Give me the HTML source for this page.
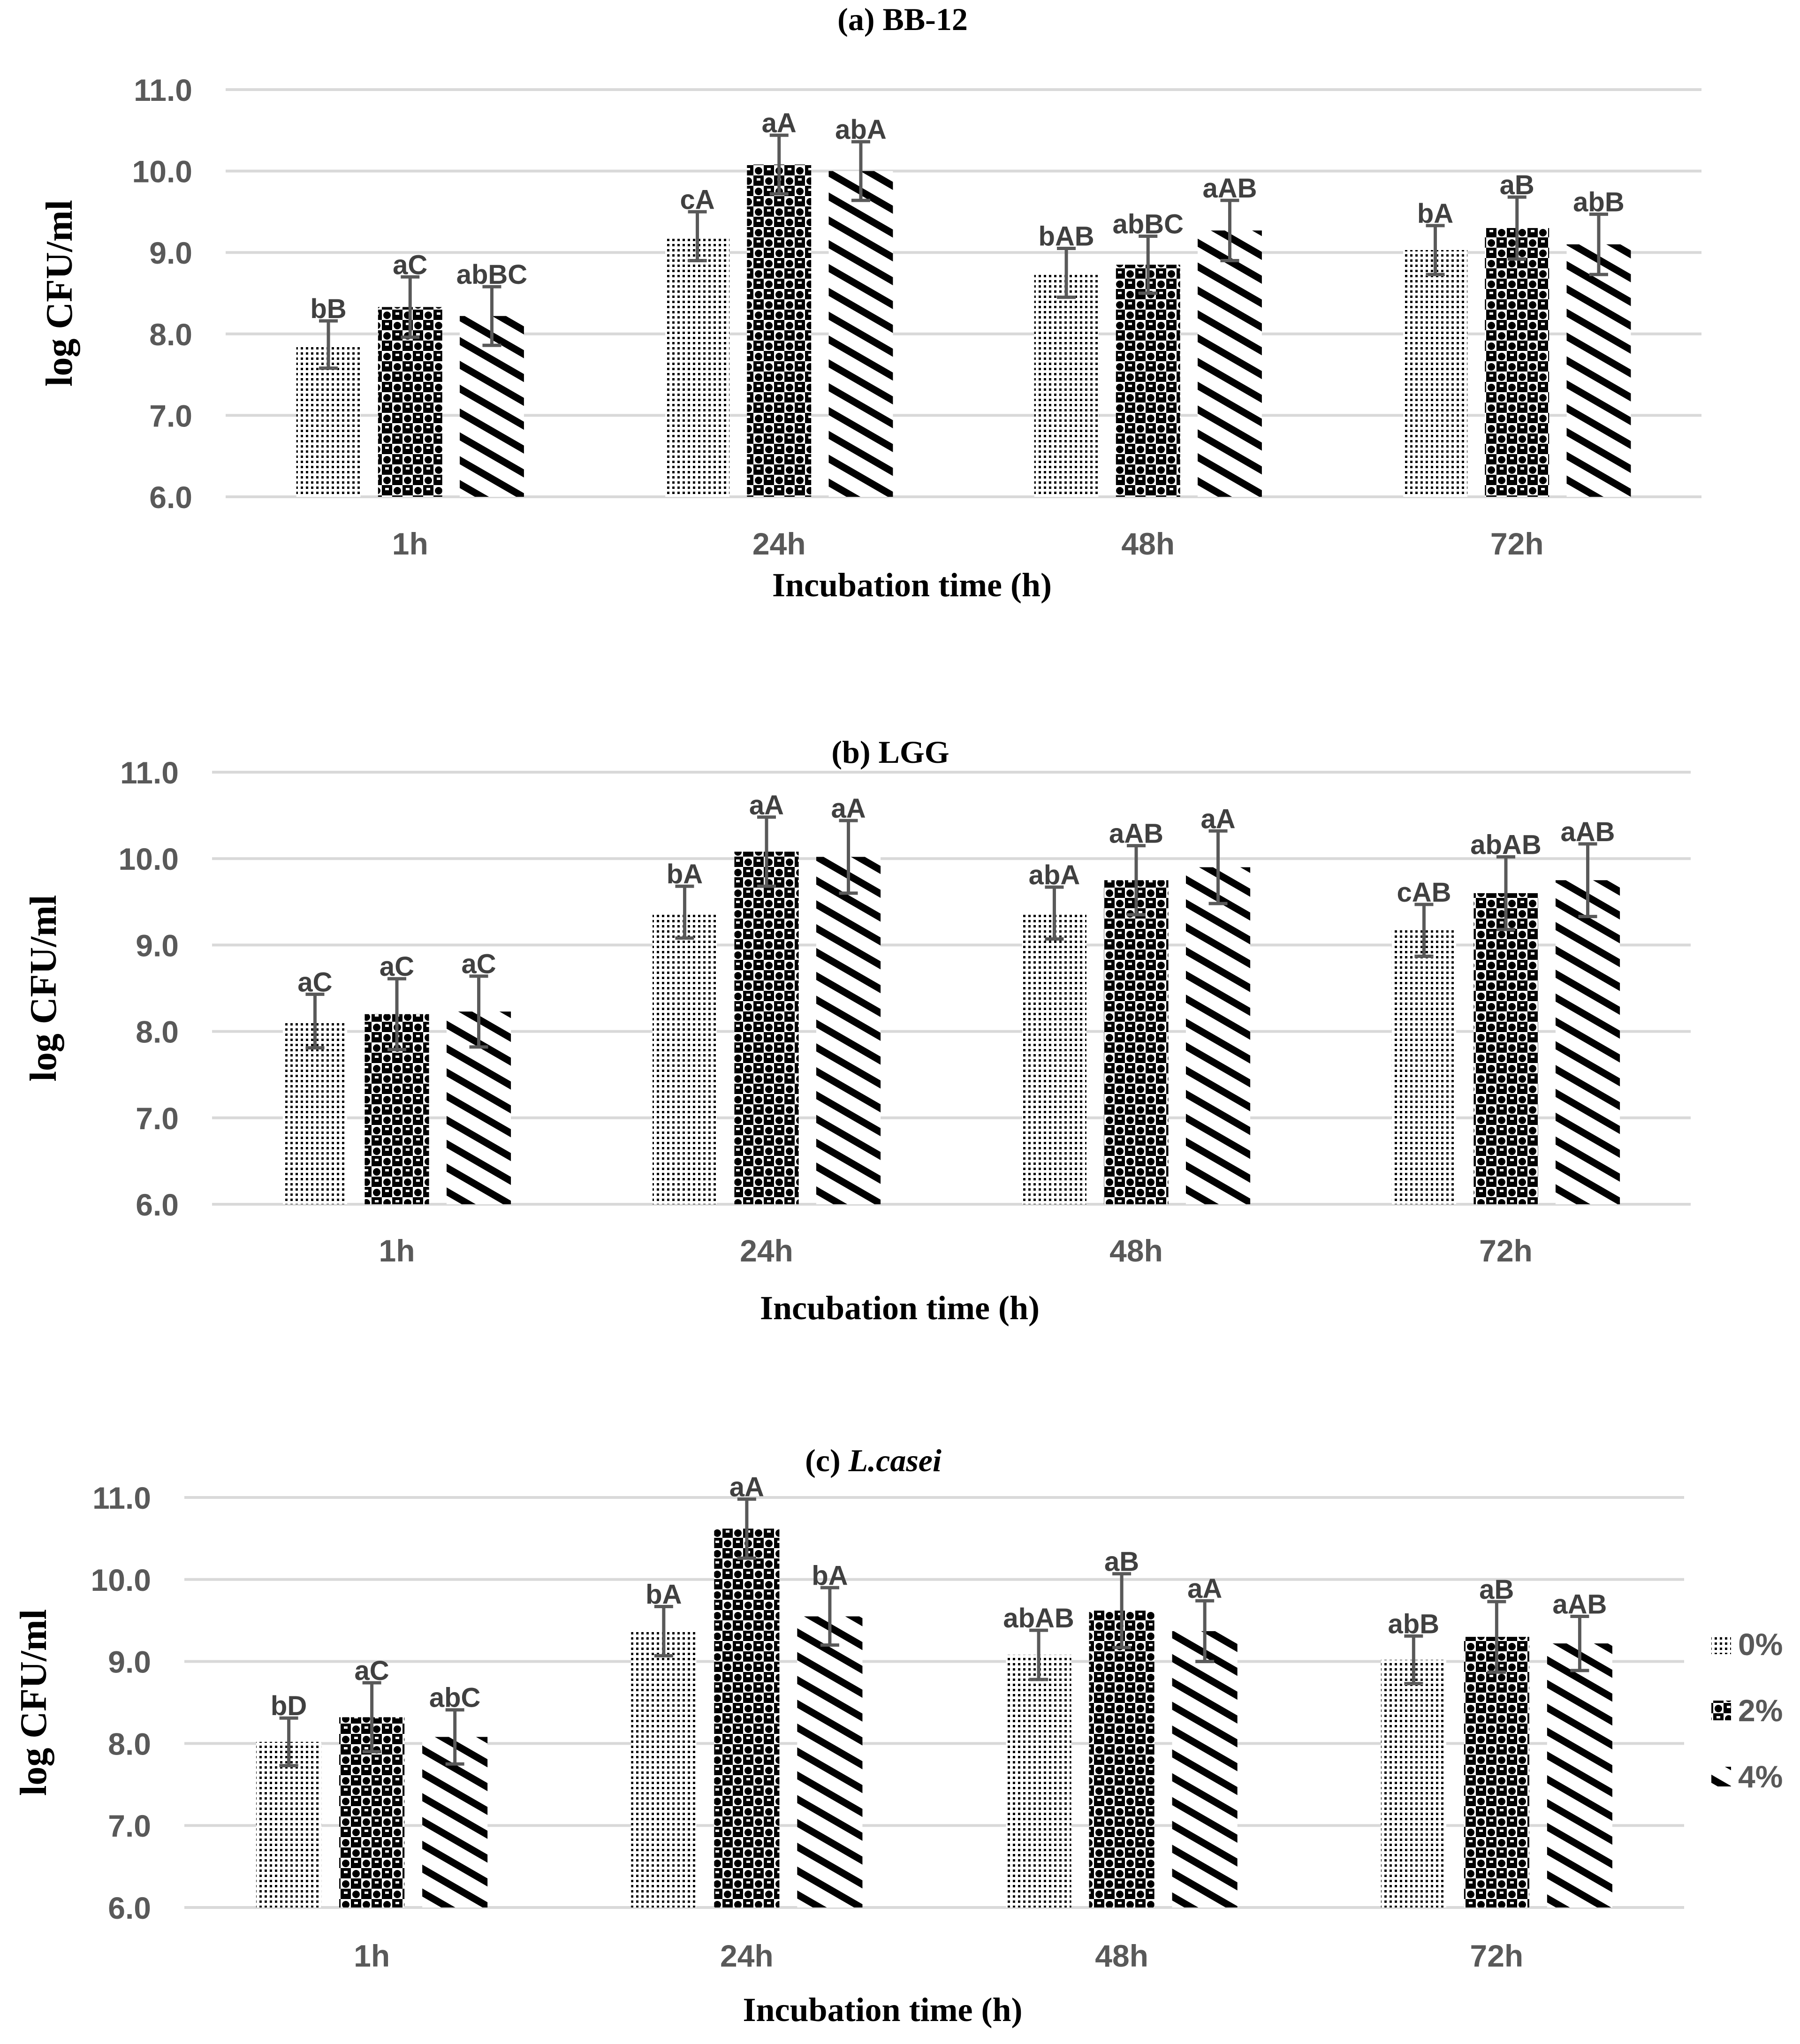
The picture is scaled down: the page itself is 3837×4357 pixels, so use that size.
<!DOCTYPE html>
<html><head><meta charset="utf-8">
<style>
html,body{margin:0;padding:0;background:#fff;}
svg{display:block;}
.tk{font-family:"Liberation Sans",sans-serif;font-weight:bold;fill:#595959;font-size:66px;}
.lb{font-family:"Liberation Sans",sans-serif;font-weight:bold;fill:#404040;font-size:58px;}
.ser{font-family:"Liberation Serif",serif;font-weight:bold;fill:#000;}
</style></head>
<body>
<svg id="chart" xmlns="http://www.w3.org/2000/svg" width="3837" height="4357" viewBox="0 0 3837 4357">
<defs>
<pattern id="p0" patternUnits="userSpaceOnUse" width="11" height="11"><rect width="11" height="11" fill="#fff"/><rect x="3" y="3" width="5" height="5" fill="#000"/></pattern>
<pattern id="p2" patternUnits="userSpaceOnUse" width="44" height="44"><rect width="44" height="44" fill="#fff"/><rect x="0" y="0" width="22" height="22" fill="#000"/><rect x="22" y="22" width="22" height="22" fill="#000"/><circle cx="33" cy="12" r="8" fill="#000"/><circle cx="11" cy="34" r="8" fill="#000"/><rect x="7" y="6" width="8" height="5" fill="#fff"/><rect x="29" y="28" width="8" height="5" fill="#fff"/></pattern>
<pattern id="p4" patternUnits="userSpaceOnUse" width="44" height="44" patternTransform="rotate(30)"><rect width="44" height="44" fill="#fff"/><rect x="0" y="0" width="44" height="15" fill="#000"/></pattern>
</defs>
<g id="root"></g>
</svg>
<script>
// ---- data ----
const categories = ["1h","24h","48h","72h"];
const seriesNames = ["0%","2%","4%"];
const yTicks = [6,7,8,9,10,11];
const yTickLabels = ["6.0","7.0","8.0","9.0","10.0","11.0"];
// panel (a) BB-12
const aMeans0 = [7.87, 9.20, 8.75, 9.03];
const aMeans2 = [8.33, 10.08, 8.85, 9.30];
const aMeans4 = [8.22, 10.00, 9.27, 9.10];
const aErr0 = [0.29, 0.30, 0.30, 0.30];
const aErr2 = [0.37, 0.36, 0.35, 0.38];
const aErr4 = [0.36, 0.36, 0.37, 0.37];
const aLab0 = ["bB","cA","bAB","bA"];
const aLab2 = ["aC","aA","abBC","aB"];
const aLab4 = ["abBC","abA","aAB","abB"];
// panel (b) LGG
const bMeans0 = [8.12, 9.38, 9.37, 9.17];
const bMeans2 = [8.20, 10.08, 9.75, 9.60];
const bMeans4 = [8.23, 10.02, 9.90, 9.75];
const bErr0 = [0.31, 0.30, 0.30, 0.30];
const bErr2 = [0.41, 0.40, 0.40, 0.42];
const bErr4 = [0.41, 0.42, 0.42, 0.42];
const bLab0 = ["aC","bA","abA","cAB"];
const bLab2 = ["aC","aA","aAB","abAB"];
const bLab4 = ["aC","aA","aA","aAB"];
// panel (c) L.casei
const cMeans0 = [8.02, 9.37, 9.08, 9.02];
const cMeans2 = [8.32, 10.62, 9.62, 9.30];
const cMeans4 = [8.08, 9.55, 9.37, 9.22];
const cErr0 = [0.29, 0.30, 0.30, 0.29];
const cErr2 = [0.42, 0.36, 0.45, 0.43];
const cErr4 = [0.33, 0.35, 0.37, 0.33];
const cLab0 = ["bD","bA","abAB","abB"];
const cLab2 = ["aC","aA","aB","aB"];
const cLab4 = ["abC","bA","aA","aAB"];

const NS = "http://www.w3.org/2000/svg";
const root = document.getElementById("root");
function mk(tag, attrs, parent){
  const e = document.createElementNS(NS, tag);
  for (const k in attrs) e.setAttribute(k, attrs[k]);
  (parent||root).appendChild(e);
  return e;
}
const pats = ["url(#p0)","url(#p2)","url(#p4)"];

function panel(id, title, italicPart, L, means, errs, labs){
  const g = mk("g", {});
  
  
  const y = v => L.y6 - (v - 6) * (L.y6 - L.y11) / 5;
  const gw = (L.x1 - L.x0) / categories.length;
  const xc = i => L.x0 + gw * (i + 0.5);
  yTicks.forEach((t, k) => {
    const ln = mk("line", {x1:L.x0, x2:L.x1, y1:y(t), y2:y(t), stroke:"#d9d9d9", "stroke-width":6}, g);
    
    
    const tx = mk("text", {x:L.tr, y:y(t)+24, "text-anchor":"end", class:"tk"}, g);
    tx.textContent = yTickLabels[k];
    
    
  });
  const bw = gw * 0.174, off = gw * 0.2215;
  categories.forEach((c, i) => {
    for (let s = 0; s < 3; s++){
      const cx = xc(i) + (s - 1) * off;
      const v = means[s][i], e = errs[s][i];
      const r = mk("rect", {x:cx - bw/2, y:y(v), width:bw, height:y(6) - y(v), fill:pats[s]}, g);
      
      
      const eg = mk("g", {stroke:"#595959", "stroke-width":7}, g);
      
      
      mk("line", {x1:cx, x2:cx, y1:y(v+e), y2:y(v-e)}, eg);
      mk("line", {x1:cx-20, x2:cx+20, y1:y(v+e), y2:y(v+e)}, eg);
      mk("line", {x1:cx-20, x2:cx+20, y1:y(v-e), y2:y(v-e)}, eg);
      const lt = mk("text", {x:cx, y:y(v+e)-6, "text-anchor":"middle", class:"lb"}, g);
      lt.textContent = labs[s][i];
      
      
    }
    const ct = mk("text", {x:xc(i), y:L.xt + 24, "text-anchor":"middle", class:"tk"}, g);
    ct.textContent = c;
    
    
  });
  const tt = mk("text", {x:(L.x0+L.x1)/2 - 130, y:L.ty + 22, "text-anchor":"middle", class:"ser", "font-size":68}, g);
  tt.textContent = title;
  if (italicPart){
    const sp = mk("tspan", {"font-style":"italic"}, tt);
    sp.textContent = italicPart;
  }
  
  
  const xt = mk("text", {x:(L.x0+L.x1)/2 - 110, y:L.xa + 26, "text-anchor":"middle", class:"ser", "font-size":72}, g);
  xt.textContent = "Incubation time (h)";
  
  
  const ym = (L.y11 + L.y6) / 2;
  const yt = mk("text", {x:0, y:0, "text-anchor":"middle", class:"ser", "font-size":80, transform:"translate(" + (L.yx + 28) + "," + ym + ") rotate(-90)"}, g);
  yt.textContent = "log CFU/ml";
  
  
}

panel("a", "(a) BB-12", "", {x0:481, x1:3627, y11:191, y6:1059, tr:410, yx:125, xt:1158, xa:1245, ty:42},
  [aMeans0, aMeans2, aMeans4], [aErr0, aErr2, aErr4], [aLab0, aLab2, aLab4]);
panel("b", "(b) LGG", "", {x0:452, x1:3604, y11:1646, y6:2567, tr:381, yx:91, xt:2665, xa:2786, ty:1604},
  [bMeans0, bMeans2, bMeans4], [bErr0, bErr2, bErr4], [bLab0, bLab2, bLab4]);
panel("c", "(c) ", "L.casei", {x0:393, x1:3590, y11:3192, y6:4066, tr:322, yx:70, xt:4168, xa:4282, ty:3114},
  [cMeans0, cMeans2, cMeans4], [cErr0, cErr2, cErr4], [cLab0, cLab2, cLab4]);

const legY = [3505, 3646, 3787];
const lg = mk("g", {});


seriesNames.forEach((n, s) => {
  const r = mk("rect", {x:3648, y:legY[s]-21, width:42, height:42, fill:pats[s]}, lg);
  
  
  const t = mk("text", {x:3705, y:legY[s]+23, class:"tk", "font-size":64}, lg);
  t.textContent = n;
  
  
});
</script>
</body></html>
